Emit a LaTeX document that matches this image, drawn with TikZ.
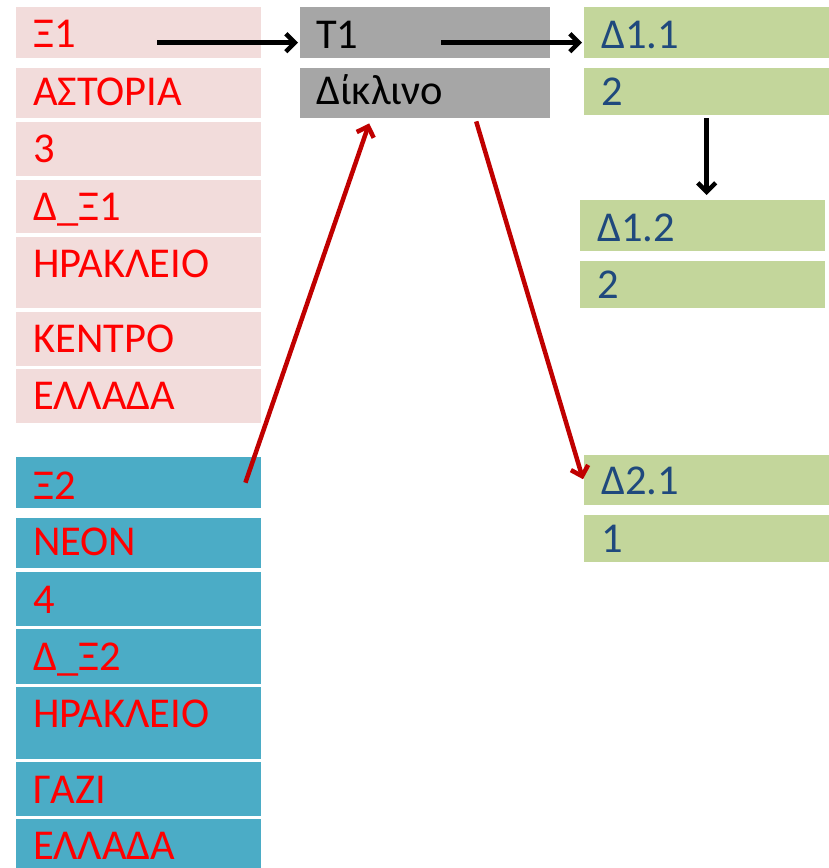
\documentclass[tikz,border=0pt]{standalone}
\usepackage{fontspec}
\usetikzlibrary{arrows.meta}
\newfontfamily\cellfont{Carlito}

\definecolor{pinkfill}{HTML}{F2DCDB}
\definecolor{bluefill}{HTML}{4BACC6}
\definecolor{grayfill}{HTML}{A6A6A6}
\definecolor{greenfill}{HTML}{C3D69B}
\definecolor{navytext}{HTML}{1F497D}
\definecolor{arrowred}{HTML}{C00000}

\tikzset{
    cell/.style={anchor=north west, inner xsep=17pt, inner ysep=0pt, text width=211pt, align=left,
        text height=40pt, text depth=11pt, font=\cellfont\fontsize{42.5}{50}\selectfont},
    pinkbox/.style={cell, fill=pinkfill, text=red},
    bluebox/.style={cell, fill=bluefill, text=red},
    graybox/.style={cell, fill=grayfill, text=black, inner xsep=16pt, text width=218pt},
    greenbox/.style={cell, fill=greenfill, text=navytext},
    lowrow/.style={text height=37pt, text depth=#1},
    blackarrow/.style={line width=4.5pt, -{Straight Barb[length=9pt,width=18pt]}},
    redarrow/.style={line width=4.5pt, arrowred, -{Straight Barb[length=9pt,width=18pt]}}
}

\begin{document}
\begin{tikzpicture}[x=1pt, y=-1pt]
    \useasboundingbox (0,0) rectangle (829,868);

    %Eintrag Xi1
    \node[pinkbox] (xi1) at (16,7) {Ξ1};
    \node[pinkbox, lowrow=13pt] (xi1b) at (16,68) {ΑΣΤΟΡΙΑ};
    \node[pinkbox, text depth=14pt] (xi1c) at (16,122) {3};
    \node[pinkbox, text depth=13pt] (xi1d) at (16,180) {Δ\_Ξ1};
    \node[pinkbox, text depth=31pt] (xi1e) at (16,237) {ΗΡΑΚΛΕΙΟ};
    \node[pinkbox, text depth=14pt] (xi1f) at (16,312) {ΚΕΝΤΡΟ};
    \node[pinkbox, text depth=14pt] (xi1g) at (16,369) {ΕΛΛΑΔΑ};

    %Eintrag Xi2
    \node[bluebox, text height=42pt, text depth=9pt] (xi2) at (16,457) {Ξ2};
    \node[bluebox, lowrow=13pt] (xi2b) at (16,518) {ΝΕΟΝ};
    \node[bluebox, text height=41pt, text depth=13pt] (xi2c) at (16,572) {4};
    \node[bluebox, text height=41pt, text depth=14pt] (xi2d) at (16,629) {Δ\_Ξ2};
    \node[bluebox, text depth=32pt] (xi2e) at (16,687) {ΗΡΑΚΛΕΙΟ};
    \node[bluebox, text height=41pt, text depth=13pt] (xi2f) at (16,762) {ΓΑΖΙ};
    \node[bluebox, text depth=9pt] (xi2g) at (16,819) {ΕΛΛΑΔΑ};

    %Typ
    \node[graybox, text height=41pt, text depth=10pt] (t1) at (300,7) {Τ1};
    \node[graybox, lowrow=14pt, text height=36pt] (dik) at (300,68) {Δίκλινο};

    %Zimmer
    \node[greenbox, text height=41pt, text depth=10pt] (d11) at (584,7) {Δ1.1};
    \node[greenbox, lowrow=10pt] (d11b) at (584,68) {2};
    \node[greenbox, text height=41pt, text depth=10pt] (d12) at (580,200) {Δ1.2};
    \node[greenbox, lowrow=10pt] (d12b) at (580,261) {2};
    \node[greenbox, text height=39pt, text depth=11pt] (d21) at (584,455) {Δ2.1};
    \node[greenbox, lowrow=10pt] (d21b) at (584,515) {1};

    %Verweise
    \draw[blackarrow] ([xshift=-104pt,yshift=-10pt]xi1.east) -- ([xshift=-2pt,yshift=-10pt]t1.west);
    \draw[blackarrow] ([xshift=-109pt,yshift=-10pt]t1.east) -- ([xshift=-2pt,yshift=-10pt]d11.west);
    \draw[blackarrow] ([yshift=-3pt]d11b.south) -- ([yshift=5pt]d11b.south |- d12.north);
    \draw[redarrow] ([xshift=-16pt]xi2.east) -- ([xshift=-56pt,yshift=-5pt]dik.south);
    \draw[redarrow] ([xshift=51pt,yshift=-3pt]dik.south) -- ([xshift=-1pt,yshift=1pt]d21.west);
\end{tikzpicture}
\end{document}
